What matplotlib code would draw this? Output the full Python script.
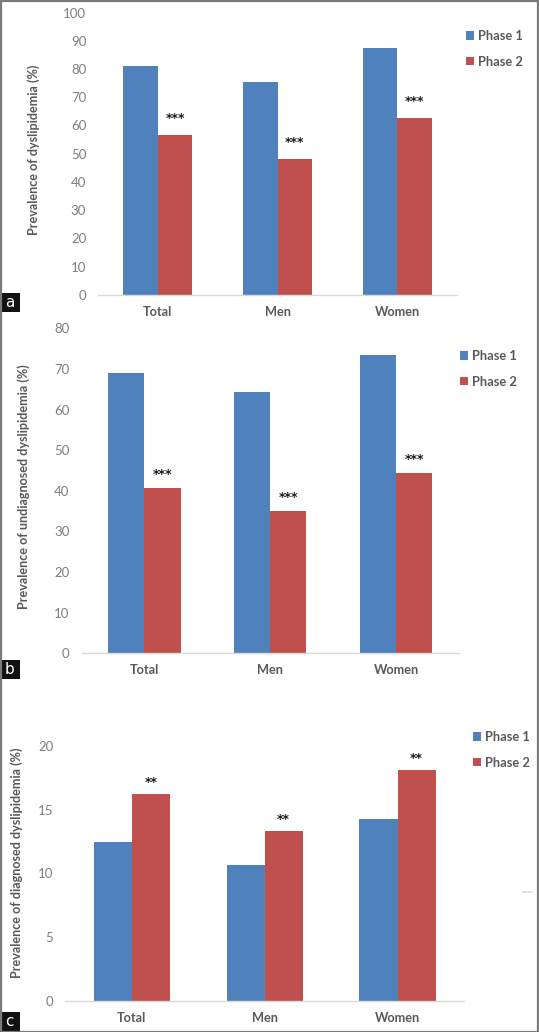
import matplotlib
matplotlib.use("Agg")
import matplotlib.pyplot as plt
from matplotlib.patches import Patch, Rectangle
from matplotlib.lines import Line2D
import numpy as np

plt.rcParams['font.family'] = ['Lato', 'DejaVu Sans']

categories = ["Total", "Men", "Women"]
series_names = ["Phase 1", "Phase 2"]

prev_phase1 = [81.2, 75.3, 87.6]
prev_phase2 = [56.7, 48.2, 62.5]
prev_sig = ["***", "***", "***"]

undiag_phase1 = [68.9, 64.4, 73.4]
undiag_phase2 = [40.7, 35.0, 44.3]
undiag_sig = ["***", "***", "***"]

diag_phase1 = [12.5, 10.7, 14.3]
diag_phase2 = [16.2, 13.3, 18.1]
diag_sig = ["**", "**", "**"]

ylabels = ["Prevalence of dyslipidemia (%)",
           "Prevalence of undiagnosed dyslipidemia (%)",
           "Prevalence of diagnosed dyslipidemia (%)"]
panel_letters = ["a", "b", "c"]
yticks_list = [list(range(0, 101, 10)), list(range(0, 81, 10)), [0, 5, 10, 15, 20]]

BLUE = "#4F81BD"
RED = "#C0504D"
GREY = "#595959"
LGREY = "#7F7F7F"

W, H = 539, 1032
fig = plt.figure(figsize=(W / 100, H / 100), dpi=100)


def px_axes(x0, x1, ytop, ybot):
    return fig.add_axes([x0 / W, 1 - ybot / H, (x1 - x0) / W, (ybot - ytop) / H])


# panel geometry in pixels: (x_left, x_right, y_top, y_bottom)
geoms = [(98, 457, 12.7, 294.7), (81.5, 459, 328.4, 653.3), (65.3, 464, 746, 1001)]
ylabel_xy = [(34, 150), (23.4, 486.7), (16.5, 862.5)]
legend_pos = [(466, 30), (460, 350), (473, 731)]
letter_boxes = [(293, 312), (660, 679), (1012, 1031)]
star_offsets = [12, 10, 8.5]

data = [(prev_phase1, prev_phase2, prev_sig),
        (undiag_phase1, undiag_phase2, undiag_sig),
        (diag_phase1, diag_phase2, diag_sig)]

bw = 0.287
x = np.arange(len(categories))

for i, ((p1, p2, sig), g) in enumerate(zip(data, geoms)):
    ax = px_axes(*g)
    ax.bar(x - bw / 2, p1, width=bw, color=BLUE, edgecolor="none", label=series_names[0])
    ax.bar(x + bw / 2, p2, width=bw, color=RED, edgecolor="none", label=series_names[1])
    for xi, v, s in zip(x, p2, sig):
        ax.annotate(s, (xi + bw / 2, v), xytext=(0, star_offsets[i]), textcoords="offset points",
                    ha="center", va="center", fontsize=9, fontweight="bold", color="#1a1a1a",
                    family=["DejaVu Sans"])
    ax.set_xlim(-0.5, 2.5)
    yt = yticks_list[i]
    ax.set_ylim(0, yt[-1])
    ax.set_yticks(yt)
    ax.set_yticklabels([str(t) for t in yt])
    ax.set_xticks(x)
    ax.set_xticklabels(categories, fontweight="bold")
    for sp in ["top", "right", "left"]:
        ax.spines[sp].set_visible(False)
    ax.spines["bottom"].set_color("#D9D9D9")
    ax.spines["bottom"].set_linewidth(1.0)
    ax.tick_params(axis="y", length=0, pad=8.5, labelsize=9.5, labelcolor=LGREY)
    ax.tick_params(axis="x", length=0, pad=8, labelsize=9.2, labelcolor=GREY)
    ax.set_facecolor("none")
    # y label
    lx_, ly_ = ylabel_xy[i]
    fig.text(lx_ / W, 1 - ly_ / H, ylabels[i], rotation=90, ha="center", va="center",
             fontsize=9.1, fontweight="bold", color=GREY)
    # legend
    handles = [Patch(facecolor=BLUE, edgecolor="none"), Patch(facecolor=RED, edgecolor="none")]
    lx, ly = legend_pos[i]
    fig.legend(handles, series_names, loc="upper left", bbox_to_anchor=(lx / W, 1 - ly / H),
               bbox_transform=fig.transFigure, frameon=False, borderpad=0, borderaxespad=0,
               handlelength=0.6, handleheight=0.6, handletextpad=0.35, labelspacing=1.05,
               prop={"size": 9.3, "weight": "bold"}, labelcolor=GREY)
    # panel letter box
    yt0, yb0 = letter_boxes[i]
    fig.patches.append(Rectangle((0, 1 - yb0 / H), 19.5 / W, (yb0 - yt0) / H, transform=fig.transFigure,
                                 facecolor="#111111", edgecolor="none"))
    fig.text(9.5 / W, 1 - (yt0 + yb0) / 2 / H, panel_letters[i], ha="center", va="center",
             color="white", fontsize=11, family=["DejaVu Sans"])

# stray tick mark
fig.lines.append(Line2D([523 / W, 532 / W], [1 - 891.7 / H, 1 - 891.7 / H], transform=fig.transFigure,
                        color="#DDDDDD", linewidth=1.2))
# outer frame
fig.patches.append(Rectangle((0.5 / W, 0.5 / H), (W - 2) / W, (H - 1.5) / H, transform=fig.transFigure,
                             facecolor="none", edgecolor="#7a7a7a", linewidth=1.6))

fig.savefig("out.png", dpi=100)
